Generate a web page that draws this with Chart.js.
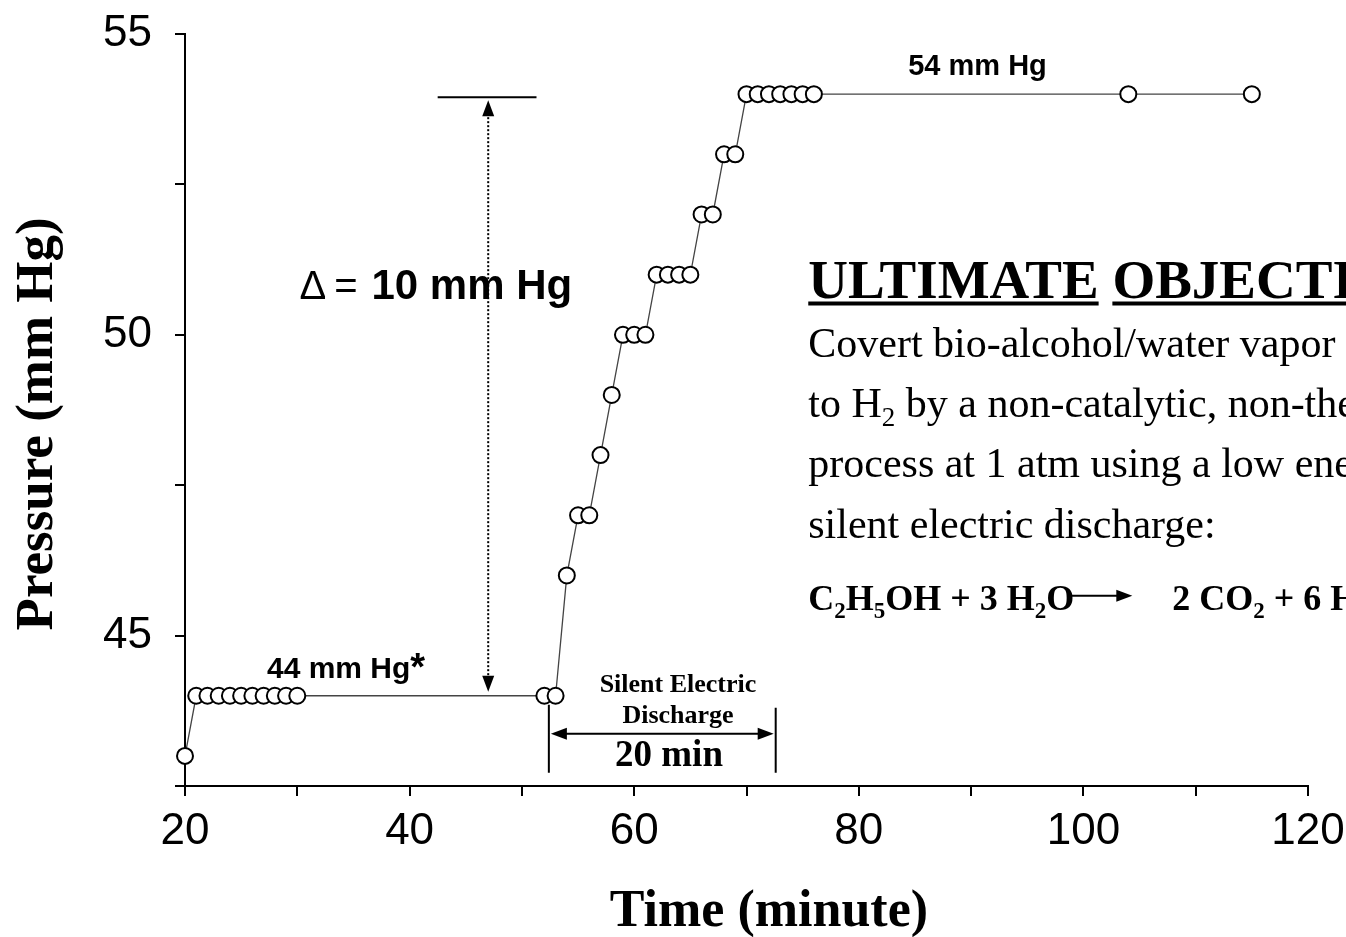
<!DOCTYPE html>
<html>
<head>
<meta charset="utf-8">
<script src="https://cdn.jsdelivr.net/npm/chart.js@4.4.0/dist/chart.umd.min.js"></script>
<style>
  html, body { margin: 0; padding: 0; background: #fff; }
  canvas { display: block; }
</style>
</head>
<body>
<canvas id="pressureChart" width="1346" height="937"></canvas>
<script>
// pressure readings
const timeMinutes = [20, 21, 22, 23, 24, 25, 26, 27, 28, 29, 30, 52, 53, 54, 55, 56, 57, 58, 59, 60, 61,
    62, 63, 64, 65, 66, 67, 68, 69, 70, 71, 72, 73, 74, 75, 76, 104, 115];
const pressureMmHg = [43, 44, 44, 44, 44, 44, 44, 44, 44, 44, 44, 44, 44, 46, 47, 47, 48, 49, 50, 50, 50,
    51, 51, 51, 51, 52, 52, 53, 53, 54, 54, 54, 54, 54, 54, 54, 54, 54];
const xTickLabels = [20, 40, 60, 80, 100, 120];
const yTickLabels = [45, 50, 55];

const SERIF = '"Liberation Serif", "Times New Roman", serif';
const SANS = '"Liberation Sans", Arial, sans-serif';

// draw text made of runs: [text, 'sub' | 'sup' | undefined]
function drawRuns(ctx, x, y, runs, size, weight, family) {
    let cx = x;
    runs.forEach(([txt, kind]) => {
        const s = kind === 'sub' ? Math.round(size * 0.65) : kind === 'sup' ? Math.round(size * 1.25) : size;
        ctx.font = `${weight} ${s}px ${family}`;
        const dy = kind === 'sub' ? size * 0.22 : kind === 'sup' ? 2 : 0;
        ctx.fillText(txt, cx, y + dy);
        cx += ctx.measureText(txt).width;
    });
    return cx;
}

function arrowHead(ctx, tipX, tipY, dir, len, half) {
    ctx.beginPath();
    ctx.moveTo(tipX, tipY);
    if (dir === 'up') { ctx.lineTo(tipX - half, tipY + len); ctx.lineTo(tipX + half, tipY + len); }
    if (dir === 'down') { ctx.lineTo(tipX - half, tipY - len); ctx.lineTo(tipX + half, tipY - len); }
    if (dir === 'left') { ctx.lineTo(tipX + len, tipY - half); ctx.lineTo(tipX + len, tipY + half); }
    if (dir === 'right') { ctx.lineTo(tipX - len, tipY - half); ctx.lineTo(tipX - len, tipY + half); }
    ctx.closePath();
    ctx.fill();
}

const annotations = {
    id: 'annotations',
    afterDraw(chart) {
        const { ctx, scales: { x, y } } = chart;
        const X = v => x.getPixelForValue(v);
        const Y = v => y.getPixelForValue(v);
        ctx.save();
        ctx.fillStyle = '#000';
        ctx.strokeStyle = '#000';
        ctx.textBaseline = 'alphabetic';

        // axis titles (the originals sit a little off-centre)
        ctx.textAlign = 'center';
        ctx.font = `bold 52px ${SERIF}`;
        ctx.fillText('Time (minute)', X(72), chart.height - 11);
        ctx.save();
        ctx.translate(52, Y(48.52));
        ctx.rotate(-Math.PI / 2);
        ctx.font = `bold 53px ${SERIF}`;
        ctx.fillText('Pressure (mm Hg)', 0, 0);
        ctx.restore();

        // delta marker
        ctx.lineWidth = 2;
        ctx.beginPath();
        ctx.moveTo(X(42.5), Y(53.95));
        ctx.lineTo(X(51.3), Y(53.95));
        ctx.stroke();
        const ax = X(47);
        ctx.setLineDash([2, 2]);
        ctx.beginPath();
        ctx.moveTo(ax, Y(53.95) + 16);
        ctx.lineTo(ax, Y(44) - 18);
        ctx.stroke();
        ctx.setLineDash([]);
        arrowHead(ctx, ax, Y(53.95) + 3, 'up', 16, 6);
        arrowHead(ctx, ax, Y(44) - 4, 'down', 16, 6);

        ctx.textAlign = 'left';
        ctx.font = `40px ${SANS}`;
        ctx.fillText('\u0394', X(30.2), Y(50.6));
        ctx.fillText('=', X(33.3), Y(50.6));
        ctx.font = `bold 42px ${SANS}`;
        ctx.fillText('10 mm Hg', X(36.6), Y(50.6));

        drawRuns(ctx, X(27.3), Y(44.3), [['44 mm Hg'], ['*', 'sup']], 30, 'bold', SANS);
        ctx.font = `bold 29px ${SANS}`;
        ctx.fillText('54 mm Hg', X(84.4), Y(54.32));

        // discharge interval
        ctx.textAlign = 'center';
        ctx.font = `bold 26px ${SERIF}`;
        ctx.fillText('Silent Electric', X(63.9), Y(44.07));
        ctx.fillText('Discharge', X(63.9), Y(43.55));
        ctx.font = `bold 37px ${SERIF}`;
        ctx.fillText('20 min', X(63.1), Y(42.84));
        ctx.lineWidth = 2;
        ctx.beginPath();
        ctx.moveTo(X(52.4), Y(43.85));
        ctx.lineTo(X(52.4), Y(42.72));
        ctx.moveTo(X(72.6), Y(43.8));
        ctx.lineTo(X(72.6), Y(42.72));
        ctx.moveTo(X(52.4) + 14, Y(43.37));
        ctx.lineTo(X(72.6) - 14, Y(43.37));
        ctx.stroke();
        arrowHead(ctx, X(52.4) + 2, Y(43.37), 'left', 16, 6);
        arrowHead(ctx, X(72.6) - 2, Y(43.37), 'right', 16, 6);

        // objective text block
        ctx.textAlign = 'left';
        const tx = X(75.5);
        const headY = Y(50.62);
        ctx.font = `bold 55px ${SERIF}`;
        const w1 = ctx.measureText('ULTIMATE').width;
        const wsp = ctx.measureText(' ').width;
        const w2 = ctx.measureText('OBJECTIVE').width;
        ctx.fillText('ULTIMATE', tx, headY);
        ctx.fillText('OBJECTIVE', tx + w1 + wsp, headY);
        ctx.fillRect(tx, headY + 4, w1, 4);
        ctx.fillRect(tx + w1 + wsp, headY + 4, w2, 4);

        const lines = [
            [['Covert bio-alcohol/water vapor']],
            [['to H'], ['2', 'sub'], [' by a non-catalytic, non-thermal']],
            [['process at 1 atm using a low energy']],
            [['silent electric discharge:']]
        ];
        lines.forEach((runs, i) => drawRuns(ctx, tx, Y(49.63 - i), runs, 42, 'normal', SERIF));

        const eqY = Y(45.43);
        const end = drawRuns(ctx, tx, eqY, [['C'], ['2', 'sub'], ['H'], ['5', 'sub'], ['OH + 3 H'], ['2', 'sub'], ['O']], 36, 'bold', SERIF);
        ctx.lineWidth = 2;
        ctx.beginPath();
        ctx.moveTo(end - 6, eqY - 14);
        ctx.lineTo(end + 44, eqY - 14);
        ctx.stroke();
        arrowHead(ctx, end + 58, eqY - 14, 'right', 16, 6);
        drawRuns(ctx, end + 98, eqY, [['2 CO'], ['2', 'sub'], [' + 6 H'], ['2', 'sub']], 36, 'bold', SERIF);

        ctx.restore();
    }
};

new Chart(document.getElementById('pressureChart'), {
    type: 'line',
    data: {
        datasets: [{
            data: timeMinutes.map((t, i) => ({ x: t, y: pressureMmHg[i] })),
            borderColor: '#444',
            borderWidth: 1.3,
            pointRadius: 8,
            pointBorderWidth: 2,
            pointBorderColor: '#000',
            pointBackgroundColor: '#fff',
            tension: 0,
            clip: false
        }]
    },
    options: {
        responsive: false,
        animation: false,
        layout: { padding: { top: 34, right: 38, left: 0, bottom: 0 } },
        plugins: { legend: { display: false }, tooltip: { enabled: false } },
        scales: {
            x: {
                type: 'linear',
                min: 20,
                max: 120,
                afterFit: s => {
                    s.height = 151;
                    s.paddingLeft = 0; s.paddingRight = 0; s.paddingTop = 0; s.paddingBottom = 0;
                },
                grid: { drawOnChartArea: false, drawTicks: true, tickLength: 10, color: '#000', lineWidth: 2 },
                border: { color: '#000', width: 2 },
                ticks: {
                    stepSize: 10,
                    autoSkip: false,
                    maxRotation: 0,
                    padding: 9,
                    color: '#000',
                    font: { family: SANS, size: 44 },
                    callback: v => xTickLabels.includes(v) ? String(v) : ''
                }
            },
            y: {
                min: 42.5,
                max: 55,
                afterFit: s => {
                    s.width = 185;
                    s.paddingLeft = 0; s.paddingRight = 0; s.paddingTop = 0; s.paddingBottom = 0;
                },
                grid: { drawOnChartArea: false, drawTicks: true, tickLength: 10, color: '#000', lineWidth: 2 },
                border: { color: '#000', width: 2 },
                ticks: {
                    stepSize: 2.5,
                    autoSkip: false,
                    padding: 23,
                    color: '#000',
                    font: { family: SANS, size: 44 },
                    callback: v => yTickLabels.includes(v) ? String(v) : ''
                }
            }
        }
    },
    plugins: [annotations]
});
</script>
</body>
</html>
